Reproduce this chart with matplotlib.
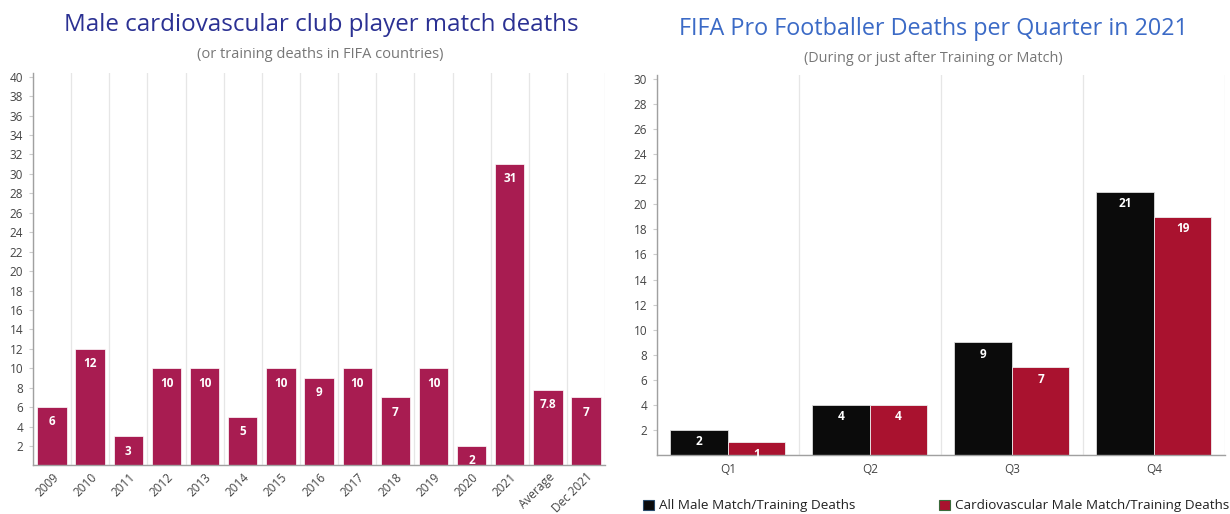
import numpy as np
import matplotlib
matplotlib.use("Agg")
import matplotlib.pyplot as plt
from matplotlib.ticker import MultipleLocator
from matplotlib.patches import Patch

plt.rcParams['font.family'] = ['Open Sans', 'DejaVu Sans']

# left chart data
years = ['2009', '2010', '2011', '2012', '2013', '2014', '2015', '2016',
         '2017', '2018', '2019', '2020', '2021', 'Average', 'Dec 2021']
deaths = [6, 12, 3, 10, 10, 5, 10, 9, 10, 7, 10, 2, 31, 7.8, 7]

# right chart data
quarters = ['Q1', 'Q2', 'Q3', 'Q4']
all_deaths = [2, 4, 9, 21]
cardio_deaths = [1, 4, 7, 19]
series_names = ['All Male Match/Training Deaths', 'Cardiovascular Male Match/Training Deaths']

BAR_LEFT = '#a81c51'
BLACK = '#0b0b0b'
RED = '#a9122f'
GRID = '#e6e6e6'
SPINE = '#a0a0a0'
TICK_TXT = '#444444'


def style_axes(ax, n, top, step):
    ax.set_xlim(-0.5, n - 0.5)
    ax.set_ylim(0, top)
    ax.set_yticks(np.arange(step, int(top) + 1, step))
    ax.set_xticks(np.arange(n + 1) - 0.5, minor=True)
    ax.yaxis.set_minor_locator(MultipleLocator(6))
    ax.grid(which='minor', color=GRID, lw=0.9)
    ax.set_axisbelow(True)
    ax.tick_params(which='minor', length=0)
    ax.tick_params(axis='y', length=3, color='#cccccc', labelsize=8.5, labelcolor=TICK_TXT, pad=4)
    ax.tick_params(axis='x', length=0, labelsize=8.5, labelcolor=TICK_TXT)
    for s in ['top', 'right']:
        ax.spines[s].set_visible(False)
    for s in ['left', 'bottom']:
        ax.spines[s].set_color(SPINE)
        ax.spines[s].set_linewidth(1)


def add_labels(ax, bars, values, off):
    for b, v in zip(bars, values):
        txt = f"{v:g}"
        ax.annotate(txt, (b.get_x() + b.get_width() / 2, b.get_height()),
                    xytext=(0, off), textcoords='offset points',
                    ha='center', va='top', color='white',
                    fontsize=8.5, fontweight='bold')


fig = plt.figure(figsize=(12.3, 5.14), dpi=100)

# left chart
ax1 = fig.add_axes([0.0268, 0.0944, 0.4652, 0.764])
x1 = np.arange(len(years))
b1 = ax1.bar(x1, deaths, width=0.77, color=BAR_LEFT, edgecolor='white', lw=0.5)
style_axes(ax1, len(years), 40.4, 2)
ax1.set_xticks(x1)
ax1.set_xticklabels(years, rotation=45, ha='right', rotation_mode='anchor')
add_labels(ax1, b1, deaths, -6)

fig.text(0.261, 1 - 25 / 514, 'Male cardiovascular club player match deaths',
         ha='center', va='center', fontsize=17.4, color='#2b3193')
fig.text(0.260, 1 - 55 / 514, '(or training deaths in FIFA countries)',
         ha='center', va='center', fontsize=10.5, color='#777777')

# right chart
ax2 = fig.add_axes([0.534, 0.1148, 0.4618, 0.7388])
x2 = np.arange(len(quarters))
w = 0.405
b2a = ax2.bar(x2 - w / 2, all_deaths, width=w, color=BLACK, edgecolor='#dddddd', lw=0.6)
b2b = ax2.bar(x2 + w / 2, cardio_deaths, width=w, color=RED, edgecolor='#eeeeee', lw=0.6)
style_axes(ax2, len(quarters), 30.3, 2)
ax2.set_xticks(x2)
ax2.set_xticklabels(quarters)
ax2.tick_params(axis='x', pad=6)
add_labels(ax2, b2a, all_deaths, -4)
add_labels(ax2, b2b, cardio_deaths, -4)

fig.text(0.7585, 1 - 29 / 514, 'FIFA Pro Footballer Deaths per Quarter in 2021',
         ha='center', va='center', fontsize=16.8, color='#3b6ac6')
fig.text(0.7585, 1 - 58 / 514, '(During or just after Training or Match)',
         ha='center', va='center', fontsize=10.4, color='#777777')

handles = [Patch(facecolor=BLACK, edgecolor='#2a4a6a', lw=0.8),
           Patch(facecolor=RED, edgecolor='#3a6a3a', lw=0.8)]
fig.legend(handles, series_names, loc='center left',
           bbox_to_anchor=(643 / 1230, 1 - 506 / 514), ncol=2, frameon=False,
           fontsize=9.7, handlelength=0.8, handleheight=0.8, handletextpad=0.4,
           columnspacing=6.2, borderpad=0, borderaxespad=0, labelcolor='#222222')

fig.savefig('out.png', dpi=100)
